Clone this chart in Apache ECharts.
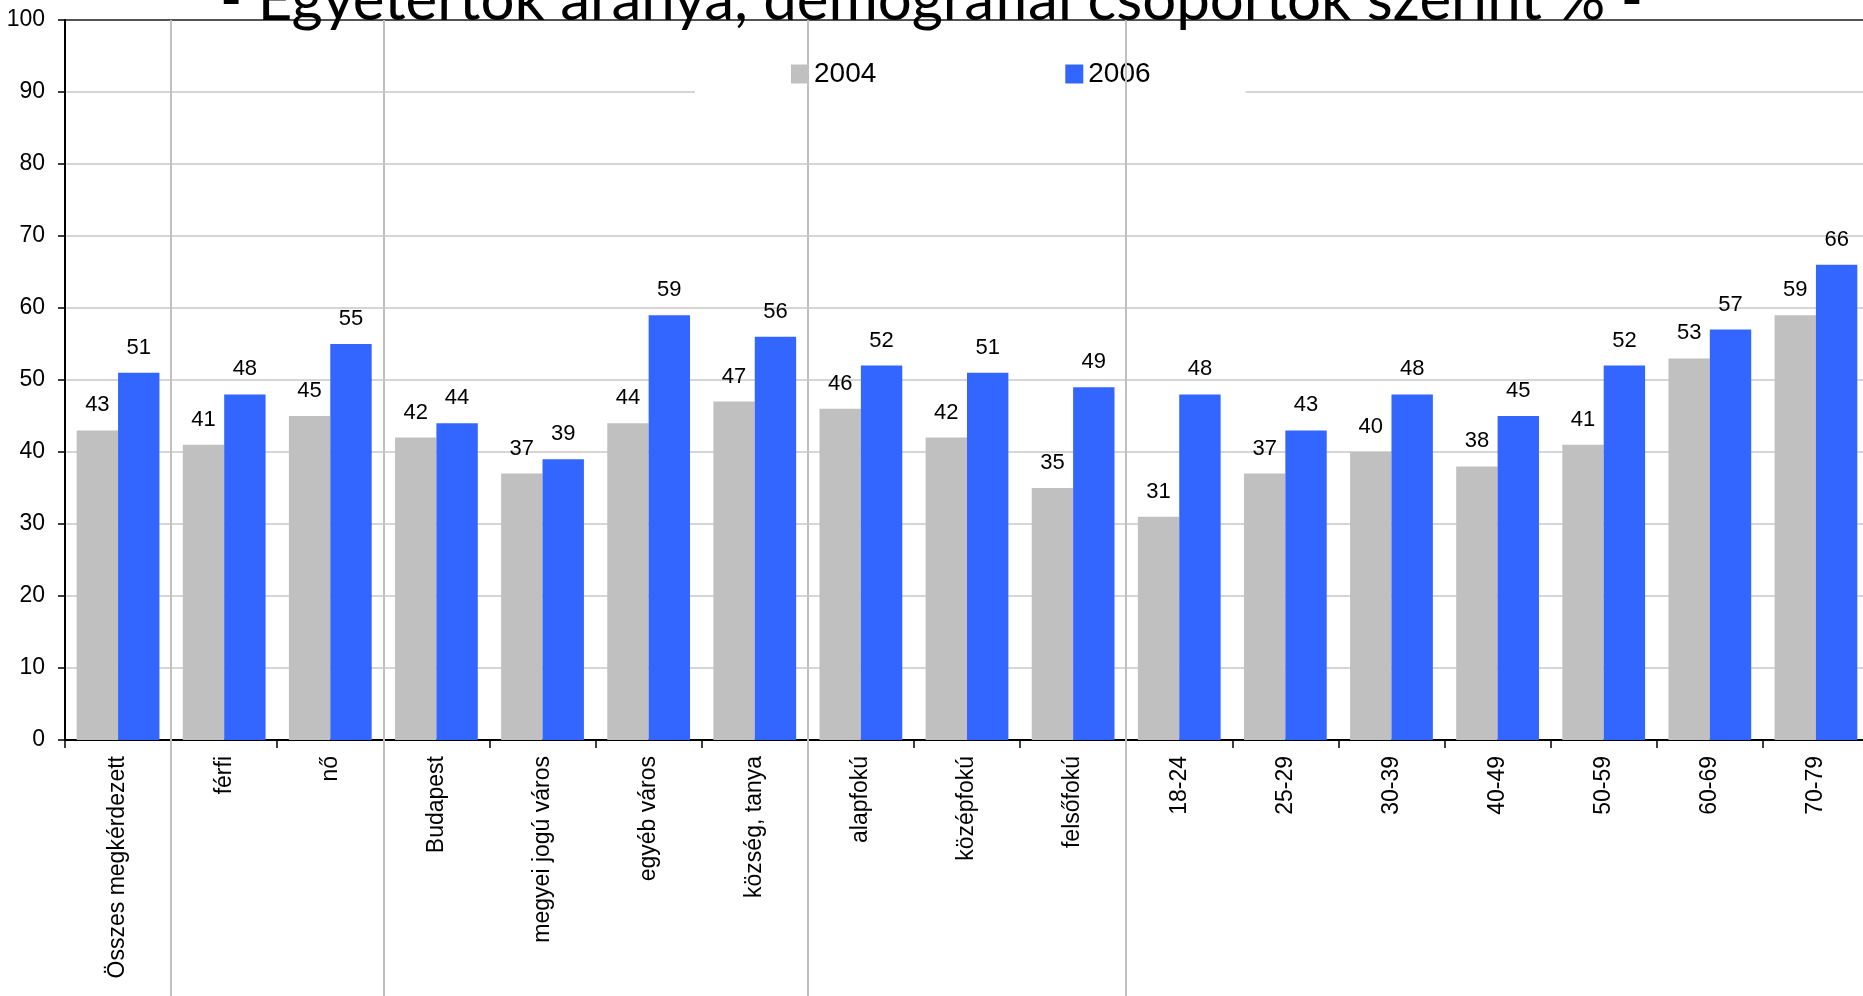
<!DOCTYPE html>
<html>
<head>
<meta charset="utf-8">
<script src="https://cdn.jsdelivr.net/npm/echarts@6/dist/echarts.min.js"></script>
<style>
html,body{margin:0;padding:0;background:#fff;}
#chart{width:1863px;height:996px;}
</style>
</head>
<body>
<div id="chart"></div>
<script>
const titleText = '- Egyetértők aránya, demográfiai csoportok szerint % -';
const categories = ['Összes megkérdezett','férfi','nő','Budapest','megyei jogú város','egyéb város','község, tanya','alapfokú','középfokú','felsőfokú','18-24','25-29','30-39','40-49','50-59','60-69','70-79'];
const seriesNames = ['2004','2006'];
const values2004 = [43,41,45,42,37,44,47,46,42,35,31,37,40,38,41,53,59];
const values2006 = [51,48,55,44,39,59,56,52,51,49,48,43,48,45,52,57,66];
const groupStarts = [1,3,7,10];
const yMin = 0, yMax = 100, yStep = 10;

const chart = echarts.init(document.getElementById('chart'), null, {renderer:'canvas'});
const FONT = 'Liberation Sans, Arial, sans-serif';
const splitColors = [];
for (let v = yMin; v <= yMax; v += yStep) splitColors.push(v === yMax ? '#555555' : '#c8c8c8');

const labelCfg = {show:true, position:'top', distance:14, fontSize:22, color:'#000', fontFamily:FONT};

chart.setOption({
  animation:false,
  backgroundColor:'#ffffff',
  title:{
    text:titleText, left:'center', top:-34, z:20,
    textStyle:{fontFamily:'Gill Sans, Lato, sans-serif', fontSize:60, fontWeight:'normal', color:'#000'}
  },
  legend:{
    data:seriesNames, left:695, top:50,
    padding:[10,95,10,96], itemGap:189, itemWidth:18, itemHeight:19,
    backgroundColor:'#ffffff', z:4,
    textStyle:{fontSize:28, color:'#000', fontFamily:FONT},
    icon:'rect'
  },
  grid:[
    {left:65, width:1804, top:20, bottom:256, show:true, borderColor:'#555555', borderWidth:2, backgroundColor:'transparent', containLabel:false, outerBoundsMode:'none'},
    {left:65, width:1804, top:20, bottom:0, containLabel:false, outerBoundsMode:'none'}
  ],
  xAxis:[
    {type:'category', gridIndex:0, data:categories,
     axisLine:{show:true, lineStyle:{color:'#000', width:2}},
     axisTick:{show:true, interval:0, length:8, lineStyle:{color:'#000', width:1.5}},
     axisLabel:{interval:0, rotate:90, margin:16, fontSize:23, color:'#000', fontFamily:FONT},
     splitLine:{show:false}},
    {type:'category', gridIndex:1, data:categories, z:10,
     axisLine:{show:false}, axisTick:{show:false}, axisLabel:{show:false},
     splitLine:{show:true, interval:function(i){return groupStarts.indexOf(i) >= 0;}, lineStyle:{color:'#c0c0c0', width:2}}}
  ],
  yAxis:[
    {type:'value', gridIndex:0, min:yMin, max:yMax, interval:yStep,
     axisLine:{show:true, lineStyle:{color:'#000', width:2}},
     axisTick:{show:true, length:7, lineStyle:{color:'#000', width:1.5}},
     axisLabel:{margin:20, fontSize:23, color:'#000', fontFamily:FONT},
     splitLine:{show:true, lineStyle:{color:splitColors, width:1.5}}},
    {type:'value', gridIndex:1, min:0, max:1, show:false, splitLine:{show:false}}
  ],
  series:[
    {name:seriesNames[0], type:'bar', xAxisIndex:0, yAxisIndex:0, data:values2004,
     itemStyle:{color:'#c0c0c0'}, barGap:'0%', barCategoryGap:'22%', label:labelCfg},
    {name:seriesNames[1], type:'bar', xAxisIndex:0, yAxisIndex:0, data:values2006,
     itemStyle:{color:'#3366ff'}, barGap:'0%', barCategoryGap:'22%', label:labelCfg}
  ]
});
</script>
</body>
</html>
